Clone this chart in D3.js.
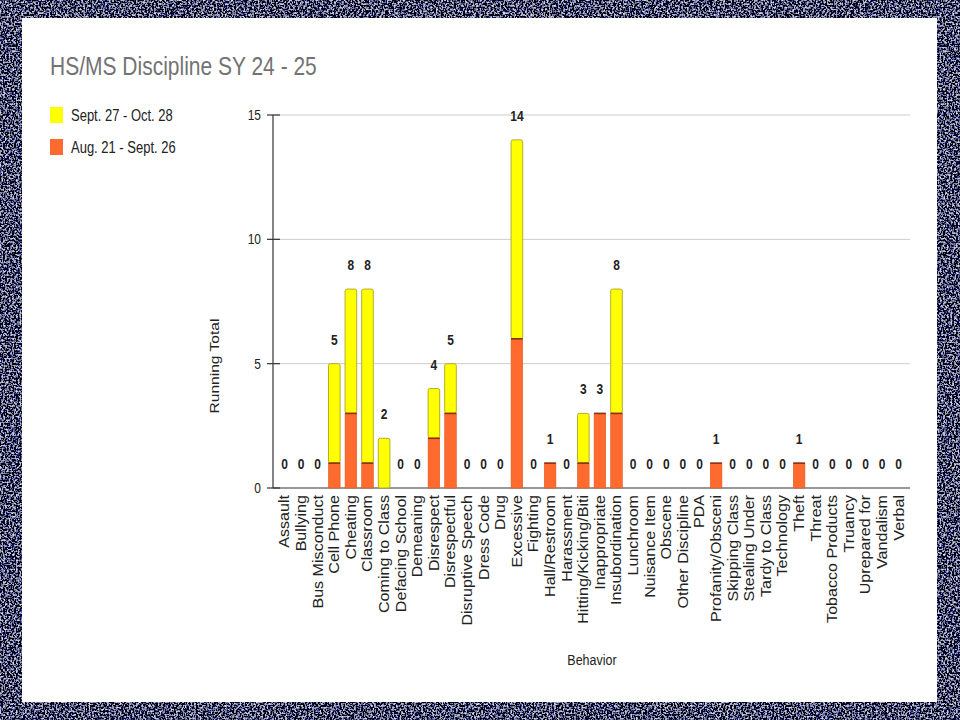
<!DOCTYPE html>
<html><head><meta charset="utf-8">
<script src="https://cdn.jsdelivr.net/npm/d3@7"></script>
<style>
html,body{margin:0;padding:0;background:#151a33;}
svg{display:block;}
text{font-family:"Liberation Sans",Arial,sans-serif;}
</style></head>
<body>
<script>
const categories = ["Assault","Bullying","Bus Misconduct","Cell Phone","Cheating","Classroom","Coming to Class","Defacing School","Demeaning","Disrespect","Disrespectful","Disruptive Speech","Dress Code","Drug","Excessive","Fighting","Hall/Restroom","Harassment","Hitting/Kicking/Biti","Inappropriate","Insubordination","Lunchroom","Nuisance Item","Obscene","Other Discipline","PDA","Profanity/Obsceni","Skipping Class","Stealing Under","Tardy to Class","Technology","Theft","Threat","Tobacco Products","Truancy","Uprepared for","Vandalism","Verbal"];
const augSept = [0,0,0,1,3,1,0,0,0,2,3,0,0,0,6,0,1,0,1,3,3,0,0,0,0,0,1,0,0,0,0,1,0,0,0,0,0,0];
const septOct = [0,0,0,4,5,7,2,0,0,2,2,0,0,0,8,0,0,0,2,0,5,0,0,0,0,0,0,0,0,0,0,0,0,0,0,0,0,0];
const yTicks = [0,5,10,15];
const seriesNames = ["Sept. 27 - Oct. 28","Aug. 21 - Sept. 26"];
const chartTitle = "HS/MS Discipline SY 24 - 25";

const W = 960, H = 720;
const SY = 1.2; // vertical stretch of the source image
const svg = d3.select("body").append("svg").attr("width", W).attr("height", H);

// textured background
const defs = svg.append("defs");
const f = defs.append("filter").attr("id","tex").attr("x",0).attr("y",0).attr("width","100%").attr("height","100%");
f.append("feTurbulence").attr("type","fractalNoise").attr("baseFrequency","0.55").attr("numOctaves",2).attr("seed",3).attr("result","n");
f.append("feColorMatrix").attr("in","n").attr("type","matrix")
 .attr("values","3.4 0 0 0 -1.62  3.4 0 0 0 -1.60  3.4 0 0 0 -1.45  0 0 0 0 1");
svg.append("rect").attr("width",W).attr("height",H).attr("fill","#151a33");
svg.append("rect").attr("width",W).attr("height",H).attr("filter","url(#tex)").attr("opacity",0.85);

// white panel
svg.append("rect").attr("x",22).attr("y",18).attr("width",915).attr("height",684).attr("fill","#ffffff");

function st(sel, x, y, s){ return sel.attr("transform",`translate(${x},${y}) scale(1,${s})`); }

// title
st(svg.append("text").text(chartTitle).attr("font-size",21).attr("fill","#737373"),50,75,SY);

// legend
const colYellow = "#ffff00", colOrange = "#ff6a2e";
[colYellow,colOrange].forEach((c,i)=>{
  svg.append("rect").attr("x",50).attr("y",107+i*32).attr("width",13).attr("height",16).attr("fill",c);
  st(svg.append("text").text(seriesNames[i]).attr("font-size",13).attr("fill","#222"),71,121+i*32,SY);
});

// scales
const x = d3.scaleBand().domain(categories).range([276.2, 907]).paddingInner(0.3).paddingOuter(0.15);
const y = d3.scaleLinear().domain([0,15]).range([488,115]);
const axisX = 273, rightX = 910;

// gridlines
svg.append("g").selectAll("line").data(yTicks.filter(d=>d>0)).join("line")
  .attr("x1",axisX).attr("x2",rightX).attr("y1",d=>y(d)).attr("y2",d=>y(d))
  .attr("stroke","#cccccc").attr("stroke-width",1);

// y axis ticks
const yAxis = svg.append("g");
yAxis.append("line").attr("x1",axisX).attr("x2",axisX).attr("y1",y(15)).attr("y2",y(0)).attr("stroke","#333").attr("stroke-width",1.2);
yAxis.selectAll("line.t").data(yTicks).join("line").attr("class","t")
  .attr("x1",267).attr("x2",280).attr("y1",d=>y(d)).attr("y2",d=>y(d)).attr("stroke","#333").attr("stroke-width",1.2);
yAxis.selectAll("text").data(yTicks).join("text").text(d=>d)
  .attr("font-size",12).attr("fill","#222").attr("text-anchor","end")
  .attr("transform",d=>`translate(261,${y(d)+5}) scale(1,${SY})`);

// x axis line
svg.append("line").attr("x1",axisX).attr("x2",rightX).attr("y1",y(0)).attr("y2",y(0)).attr("stroke","#333").attr("stroke-width",1.2);

// bars
const bw = x.bandwidth();
const gBars = svg.append("g");
categories.forEach((c,i)=>{
  const a = augSept[i], s = septOct[i];
  const x0 = x(c);
  if (s>0){
    gBars.append("rect").attr("x",x0).attr("y",y(a+s)).attr("width",bw).attr("height",y(a)-y(a+s))
      .attr("rx",2).attr("fill",colYellow).attr("stroke","#b4ae2a").attr("stroke-width",1);
  }
  if (a>0){
    gBars.append("rect").attr("x",x0).attr("y",y(a)).attr("width",bw).attr("height",y(0)-y(a))
      .attr("fill",colOrange).attr("stroke","#e0581f").attr("stroke-width",0.6);
    gBars.append("line").attr("x1",x0).attr("x2",x0+bw).attr("y1",y(a)).attr("y2",y(a))
      .attr("stroke","#8a3010").attr("stroke-width",1.6);
  }
});

// value labels
svg.append("g").selectAll("text").data(categories).join("text")
  .text((c,i)=>augSept[i]+septOct[i])
  .attr("font-size",12).attr("font-weight","bold").attr("fill","#222").attr("text-anchor","middle")
  .attr("transform",(c,i)=>`translate(${x(c)+bw/2},${y(augSept[i]+septOct[i])-19}) scale(1,${SY})`);

// category labels (rotated)
svg.append("g").selectAll("text").data(categories).join("text").text(d=>d)
  .attr("font-size",14).attr("fill","#222").attr("text-anchor","end").attr("dy","0.35em")
  .attr("transform",d=>`translate(${x(d)+bw/2},495) rotate(-90) scale(1.15,1)`);

// axis titles
svg.append("text").text("Running Total").attr("font-size",13).attr("fill","#222").attr("text-anchor","middle")
  .attr("transform",`translate(219,366) rotate(-90) scale(${SY},1)`);
st(svg.append("text").text("Behavior").attr("font-size",12.5).attr("fill","#222").attr("text-anchor","middle"),592,665,SY);
</script>
</body></html>
